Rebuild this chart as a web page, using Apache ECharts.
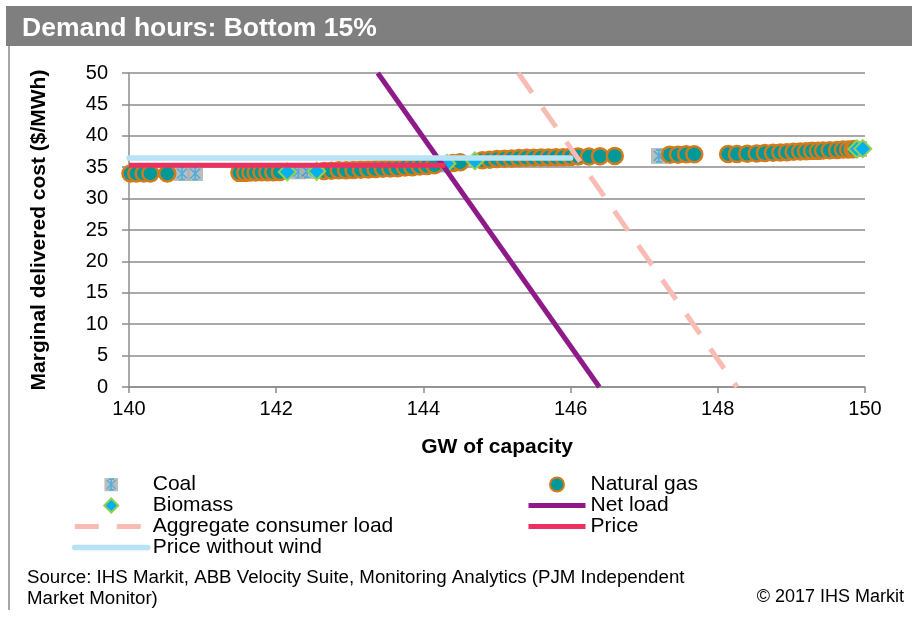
<!DOCTYPE html>
<html>
<head>
<meta charset="utf-8">
<script src="https://cdn.jsdelivr.net/npm/echarts@6/dist/echarts.min.js"></script>
<style>
  html, body { margin: 0; padding: 0; background: #fff; }
  #main { width: 912px; height: 619px; }
</style>
</head>
<body>
<div id="main"></div>
<script>
// [GW, $/MWh]
var coalPts = [
  [140.72, 34.0], [140.9, 34.0], [141.55, 34.15], [142.3, 34.3], [142.42, 34.35],
  [144.25, 35.4], [147.2, 36.8], [148.2, 37.1], [149.65, 37.75], [149.92, 37.9]
];
var gasPts = [
  [140.02, 34.0], [140.1, 34.0], [140.2, 34.0], [140.29, 34.0], [140.52, 34.0],
  [141.5, 34.1], [141.58, 34.1], [141.65, 34.15], [141.72, 34.15], [141.8, 34.2],
  [141.88, 34.2], [141.96, 34.2], [142.05, 34.25], [142.65, 34.4], [142.75, 34.45],
  [142.85, 34.5], [142.95, 34.5], [143.05, 34.55], [143.15, 34.6], [143.25, 34.65],
  [143.35, 34.7], [143.45, 34.75], [143.55, 34.8], [143.65, 34.85], [143.75, 34.95],
  [143.85, 35.0], [143.95, 35.1], [144.05, 35.2], [144.15, 35.3], [144.4, 35.65],
  [144.5, 35.8], [144.8, 36.1], [144.9, 36.2], [145.0, 36.3], [145.1, 36.35],
  [145.2, 36.4], [145.3, 36.45], [145.4, 36.5], [145.5, 36.5], [145.6, 36.55],
  [145.7, 36.55], [145.8, 36.6], [145.9, 36.6], [146.0, 36.65], [146.1, 36.7],
  [146.25, 36.7], [146.4, 36.75], [146.6, 36.8],
  [147.35, 37.0], [147.46, 37.0], [147.57, 37.05], [147.68, 37.05],
  [148.14, 37.1], [148.26, 37.1], [148.4, 37.15], [148.53, 37.2], [148.64, 37.25],
  [148.75, 37.3], [148.85, 37.35], [148.94, 37.4], [149.03, 37.45], [149.12, 37.5],
  [149.2, 37.55], [149.28, 37.6], [149.36, 37.6], [149.43, 37.65], [149.52, 37.7],
  [149.62, 37.75], [149.7, 37.8], [149.77, 37.8], [149.83, 37.85], [149.86, 37.9]
];
var biomassPts = [
  [142.15, 34.25], [142.55, 34.35], [144.32, 35.6], [144.7, 36.0], [149.89, 37.9], [149.97, 37.95]
];
var netLoad = [[143.38, 50], [146.39, 0]];
var aggLoad = [[145.29, 50], [148.26, 0]];
var price = [[140, 35.3], [144.3, 35.3]];
var priceNoWind = [[140, 36.45], [146.0, 36.45]];

var FONT = '"Liberation Sans", Arial, sans-serif';

var coalSvg = '<svg xmlns="http://www.w3.org/2000/svg" width="16" height="16" viewBox="0 0 16 16">' +
  '<rect x="0" y="0" width="16" height="16" fill="#adadad"/>' +
  '<g stroke="#1e9ad6" stroke-width="1.6" fill="none">' +
  '<line x1="3" y1="3" x2="13" y2="13"/><line x1="13" y1="3" x2="3" y2="13"/>' +
  '<line x1="8" y1="2" x2="8" y2="14"/><line x1="5" y1="2" x2="11" y2="2"/>' +
  '<line x1="5" y1="14" x2="11" y2="14"/></g></svg>';
var coalSymbol = 'image://data:image/svg+xml;charset=utf-8,' + encodeURIComponent(coalSvg);
var diamondSymbol = 'path://M0,-10L10,0L0,10L-10,0Z';

var hideDot = { opacity: 0 };

var chart = echarts.init(document.getElementById('main'));

chart.setOption({
  animation: false,
  textStyle: { fontFamily: FONT },
  grid: { left: 129, right: 47, top: 73, bottom: 232 },
  xAxis: {
    type: 'value', min: 140, max: 150, interval: 2,
    name: 'GW of capacity', nameLocation: 'middle', nameGap: 50,
    nameTextStyle: { fontSize: 21, fontWeight: 'bold', color: '#000', fontFamily: FONT },
    axisLine: { lineStyle: { color: '#8c8c8c', width: 1.5 } },
    axisTick: { show: true, length: 6, lineStyle: { color: '#8c8c8c', width: 1.5 } },
    axisLabel: { fontSize: 20, color: '#000', margin: 12, fontFamily: FONT },
    splitLine: { show: false }
  },
  yAxis: {
    type: 'value', min: 0, max: 50, interval: 5,
    name: 'Marginal delivered cost ($/MWh)', nameLocation: 'middle', nameGap: 79,
    nameTextStyle: { fontSize: 21, fontWeight: 'bold', color: '#000', fontFamily: FONT },
    axisLine: { show: true, lineStyle: { color: '#8c8c8c', width: 1.5 } },
    axisTick: { show: true, length: 7, lineStyle: { color: '#8c8c8c', width: 1.5 } },
    axisLabel: { fontSize: 20, color: '#000', margin: 21, fontFamily: FONT },
    splitLine: { lineStyle: { color: '#8c8c8c', width: 1.5 } }
  },
  legend: [
    {
      orient: 'vertical', left: 72, top: 474, padding: 0, itemWidth: 73, itemHeight: 14, itemGap: 0,
      textStyle: { fontSize: 21, color: '#000', lineHeight: 21, fontFamily: FONT },
      lineStyle: { width: 'inherit' },
      data: [
        'Coal', 'Biomass',
        { name: 'Aggregate consumer load', itemStyle: hideDot },
        { name: 'Price without wind', itemStyle: hideDot }
      ]
    },
    {
      orient: 'vertical', left: 526, top: 474, padding: 0, itemWidth: 57, itemHeight: 14, itemGap: 0,
      textStyle: { fontSize: 21, color: '#000', lineHeight: 21, fontFamily: FONT },
      lineStyle: { width: 'inherit' },
      data: [
        'Natural gas',
        { name: 'Net load', itemStyle: hideDot },
        { name: 'Price', itemStyle: hideDot }
      ]
    }
  ],
  graphic: [
    { type: 'rect', left: 6, top: 6, shape: { width: 906, height: 40 }, style: { fill: '#7f7f7f' } },
    { type: 'text', left: 22, top: 15, style: { text: 'Demand hours: Bottom 15%', fill: '#fff', font: 'bold 26.5px ' + FONT } },
    { type: 'rect', left: 8, top: 46, shape: { width: 2, height: 564 }, style: { fill: '#a6a6a6' } },
    { type: 'text', left: 27, top: 567, style: { text: 'Source: IHS Markit, ABB Velocity Suite, Monitoring Analytics (PJM Independent\nMarket Monitor)', fill: '#000', font: '18.7px ' + FONT, lineHeight: 21 } },
    { type: 'text', right: 8, top: 588, style: { text: '\u00a9 2017 IHS Markit', fill: '#000', font: '18px ' + FONT } }
  ],
  series: [
    {
      name: 'Coal', type: 'scatter', data: coalPts, symbol: coalSymbol, symbolSize: 16,
      itemStyle: { color: '#1e9ad6' }
    },
    {
      name: 'Natural gas', type: 'scatter', data: gasPts, symbol: 'circle', symbolSize: 16,
      itemStyle: { color: '#009999', borderColor: '#d27b1c', borderWidth: 2.5, opacity: 1 }
    },
    {
      name: 'Biomass', type: 'scatter', data: biomassPts, symbol: diamondSymbol, symbolSize: 17,
      itemStyle: { color: '#00b0f0', borderColor: '#92d050', borderWidth: 2, opacity: 1 }
    },
    {
      name: 'Net load', type: 'line', data: netLoad, symbol: 'none',
      lineStyle: { color: '#8e1a8a', width: 5 }, itemStyle: { color: '#8e1a8a' }
    },
    {
      name: 'Aggregate consumer load', type: 'line', data: aggLoad, symbol: 'none',
      lineStyle: { color: '#f9bcb4', width: 5, type: [24, 18] }, itemStyle: { color: '#f9bcb4' }
    },
    {
      name: 'Price', type: 'line', data: price, symbol: 'none',
      lineStyle: { color: '#ec3160', width: 5 }, itemStyle: { color: '#ec3160' }
    },
    {
      name: 'Price without wind', type: 'line', data: priceNoWind, symbol: 'none',
      lineStyle: { color: '#b8e2f5', width: 5.5, cap: 'round' }, itemStyle: { color: '#b8e2f5' }
    }
  ]
});
</script>
</body>
</html>
